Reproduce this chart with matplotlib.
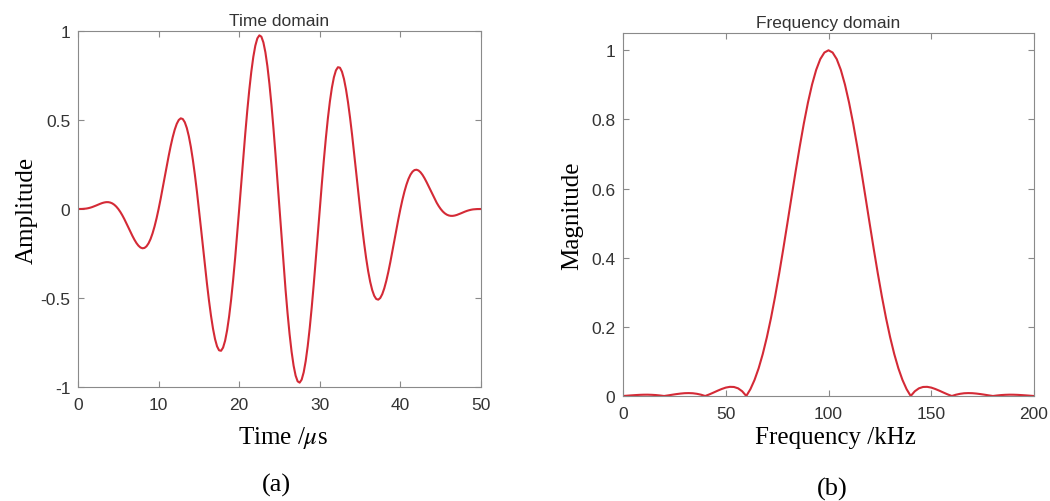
import matplotlib
matplotlib.use("Agg")
import matplotlib.pyplot as plt

# ---- Data ----
time_us = [i * 0.25 for i in range(201)]
amplitude = [
    # 0 .. 4.75 us
    0.0, 0.0000, 0.0003, 0.0010, 0.0023, 0.0044, 0.0072, 0.0107, 0.0149, 0.0196,
    0.0245, 0.0292, 0.0334, 0.0366, 0.0385, 0.0385, 0.0363, 0.0316, 0.0240, 0.0135,
    # 5 .. 9.75
    0.0, -0.0164, -0.0354, -0.0567, -0.0797, -0.1036, -0.1276, -0.1509, -0.1724, -0.1912,
    -0.2061, -0.2163, -0.2207, -0.2187, -0.2096, -0.1930, -0.1688, -0.1368, -0.0976, -0.0517,
    # 10 .. 14.75
    0.0, 0.0564, 0.1161, 0.1775, 0.2389, 0.2982, 0.3538, 0.4036, 0.4456, 0.4783,
    0.5000, 0.5094, 0.5054, 0.4874, 0.4552, 0.4089, 0.3491, 0.2765, 0.1929, 0.1000,
    # 15 .. 19.75
    0.0, -0.1047, -0.2114, -0.3172, -0.4192, -0.5141, -0.5994, -0.6723, -0.7303, -0.7714,
    -0.7939, -0.7965, -0.7786, -0.7401, -0.6814, -0.6035, -0.5083, -0.3973, -0.2736, -0.1400,
    # 20 .. 24.75
    0.0, 0.1429, 0.2850, 0.4224, 0.5517, 0.6686, 0.7705, 0.8544, 0.9176, 0.9585,
    0.9755, 0.9681, 0.9361, 0.8803, 0.8019, 0.7027, 0.5857, 0.4530, 0.3087, 0.1564,
    # 25 .. 29.75
    0.0, -0.1564, -0.3087, -0.4530, -0.5857, -0.7027, -0.8019, -0.8803, -0.9361, -0.9681,
    -0.9755, -0.9585, -0.9176, -0.8544, -0.7705, -0.6686, -0.5517, -0.4224, -0.2850, -0.1429,
    # 30 .. 34.75
    0.0, 0.1400, 0.2736, 0.3973, 0.5083, 0.6035, 0.6814, 0.7401, 0.7786, 0.7965,
    0.7939, 0.7714, 0.7303, 0.6723, 0.5994, 0.5141, 0.4192, 0.3172, 0.2114, 0.1047,
    # 35 .. 39.75
    0.0, -0.1000, -0.1929, -0.2765, -0.3491, -0.4089, -0.4552, -0.4874, -0.5054, -0.5094,
    -0.5000, -0.4783, -0.4456, -0.4036, -0.3538, -0.2982, -0.2389, -0.1775, -0.1161, -0.0564,
    # 40 .. 44.75
    0.0, 0.0517, 0.0976, 0.1368, 0.1688, 0.1930, 0.2096, 0.2187, 0.2207, 0.2163,
    0.2061, 0.1912, 0.1724, 0.1509, 0.1276, 0.1036, 0.0797, 0.0567, 0.0354, 0.0164,
    # 45 .. 50
    0.0, -0.0135, -0.0240, -0.0316, -0.0363, -0.0385, -0.0385, -0.0366, -0.0334, -0.0292,
    -0.0245, -0.0196, -0.0149, -0.0107, -0.0072, -0.0044, -0.0023, -0.0010, -0.0003, 0.0000,
    0.0,
]

freq_khz = [i * 2 for i in range(101)]
magnitude = [
    0.0, 0.0009, 0.0018, 0.0026, 0.0033, 0.0037, 0.0038, 0.0034, 0.0027, 0.0015,
    0.0, 0.0018, 0.0037, 0.0055, 0.0070, 0.0081, 0.0084, 0.0079, 0.0063, 0.0037,
    0.0, 0.0046, 0.0098, 0.0152, 0.0202, 0.0243, 0.0265, 0.0261, 0.0222, 0.0137,
    0.0, 0.0198, 0.0464, 0.0801, 0.1213, 0.1698, 0.2252, 0.2871, 0.3544, 0.4258,
    0.5000, 0.5752, 0.6497, 0.7213, 0.7884, 0.8488, 0.9010, 0.9433, 0.9745, 0.9935,
    1.0,
    0.9935, 0.9745, 0.9433, 0.9010, 0.8488, 0.7884, 0.7213, 0.6497, 0.5752, 0.5000,
    0.4258, 0.3544, 0.2871, 0.2252, 0.1698, 0.1213, 0.0801, 0.0464, 0.0198, 0.0,
    0.0137, 0.0222, 0.0261, 0.0265, 0.0243, 0.0202, 0.0152, 0.0098, 0.0046, 0.0,
    0.0037, 0.0063, 0.0079, 0.0084, 0.0081, 0.0070, 0.0055, 0.0037, 0.0018, 0.0,
    0.0015, 0.0027, 0.0034, 0.0038, 0.0037, 0.0033, 0.0026, 0.0018, 0.0009, 0.0,
]

time_ticks = [0, 10, 20, 30, 40, 50]
amp_ticks = [-1, -0.5, 0, 0.5, 1]
amp_ticklabels = ["-1", "-0.5", "0", "0.5", "1"]
freq_ticks = [0, 50, 100, 150, 200]
mag_ticks = [0, 0.2, 0.4, 0.6, 0.8, 1]
mag_ticklabels = ["0", "0.2", "0.4", "0.6", "0.8", "1"]

# ---- Styling ----
plt.rcParams["axes.unicode_minus"] = False
plt.rcParams["mathtext.fontset"] = "stix"
sans = ["Liberation Sans", "DejaVu Sans"]
serif = ["Liberation Serif", "DejaVu Serif"]
line_color = "#d42a36"
spine_color = "#8a8a8a"
text_color = "#333333"

W, H = 1050, 502
fig = plt.figure(figsize=(W / 100, H / 100), dpi=100)
fig.patch.set_facecolor("white")


def make_ax(x0, x1, y0, y1):
    return fig.add_axes([x0 / W, 1 - y1 / H, (x1 - x0) / W, (y1 - y0) / H])


def style(ax):
    for s in ax.spines.values():
        s.set_color(spine_color)
        s.set_linewidth(0.8)
    ax.tick_params(direction="in", top=True, right=True, length=4,
                   width=0.8, color=spine_color, labelsize=12.5,
                   labelcolor=text_color)
    ax.tick_params(axis="x", pad=7.5)
    ax.tick_params(axis="y", pad=5.5)
    for lab in ax.get_xticklabels() + ax.get_yticklabels():
        lab.set_family(sans)


ax1 = make_ax(78, 481, 32, 388)
ax1.plot(time_us, amplitude, color=line_color, lw=1.5)
ax1.set_xlim(0, 50)
ax1.set_ylim(-1, 1)
ax1.set_xticks(time_ticks)
ax1.set_yticks(amp_ticks)
ax1.set_yticklabels(amp_ticklabels)
style(ax1)
ax1.set_title("Time domain", family=sans, fontsize=12.5, color=text_color, pad=4)
ax1.set_ylabel("Amplitude", family=serif, fontsize=18, color="black", labelpad=2)

ax2 = make_ax(623, 1034, 34, 397)
ax2.plot(freq_khz, magnitude, color=line_color, lw=1.5)
ax2.set_xlim(0, 200)
ax2.set_ylim(0, 1.05)
ax2.set_xticks(freq_ticks)
ax2.set_yticks(mag_ticks)
ax2.set_yticklabels(mag_ticklabels)
style(ax2)
ax2.set_title("Frequency domain", family=sans, fontsize=12.5, color=text_color, pad=4)
ax2.set_ylabel("Magnitude", family=serif, fontsize=18, color="black", labelpad=6)

# x labels and captions placed in figure pixel coordinates
fig.text(283 / W, 1 - 438 / H, "Time /$\\mu$s", family=serif, fontsize=18,
         ha="center", va="center")
fig.text(835 / W, 1 - 438 / H, "Frequency /kHz", family=serif, fontsize=18,
         ha="center", va="center")
fig.text(276 / W, 1 - 485 / H, "(a)", family=serif, fontsize=19,
         ha="center", va="center")
fig.text(832 / W, 1 - 489 / H, "(b)", family=serif, fontsize=19,
         ha="center", va="center")

fig.savefig("out.png", dpi=100, facecolor="white")
